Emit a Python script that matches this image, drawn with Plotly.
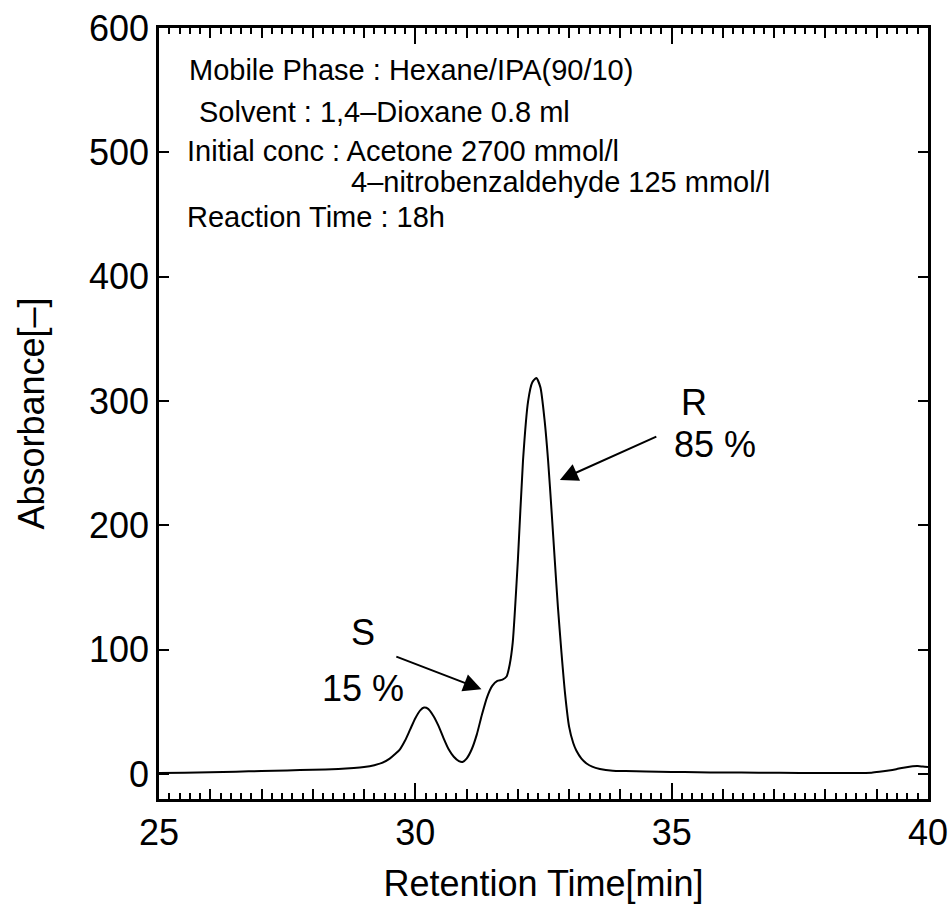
import plotly.graph_objects as go

# Chromatogram trace
time_min = [25.0, 25.5, 26.0, 26.5, 27.0, 27.5, 28.0, 28.5, 28.8, 29.0, 29.2, 29.35, 29.5, 29.6,
            29.7, 29.8, 29.9, 30.0, 30.1, 30.17, 30.25, 30.35, 30.45, 30.55, 30.65, 30.75, 30.85,
            30.92, 31.0, 31.1, 31.2, 31.3, 31.4, 31.5, 31.6, 31.7, 31.78, 31.84, 31.9, 32.0, 32.1,
            32.2, 32.28, 32.36, 32.44, 32.52, 32.59, 32.66, 32.72, 32.78, 32.85, 32.92, 33.0, 33.08,
            33.14, 33.24, 33.34, 33.45, 33.6, 33.85, 34.1, 34.5, 35.0, 35.5, 36.0, 36.7, 37.5, 38.5,
            38.9, 39.05, 39.2, 39.38, 39.55, 39.7, 39.8, 39.9, 40.0]
absorbance = [1.0, 1.2, 1.5, 2.0, 2.5, 3.0, 3.5, 4.2, 5.0, 5.8, 7.2, 9.0, 12.5, 16,
              20, 27, 36, 45, 51.5, 53.5, 52.5, 47, 39, 29, 20, 14, 10.5,
              9.8, 12.5, 20, 32, 48, 62, 71, 75, 76, 78.5, 88, 106, 172, 252,
              300, 315, 318.5, 311, 285, 252, 210, 172, 135, 98, 65, 38, 25,
              19, 12.5, 8.6, 6.0, 4.2, 2.8, 2.5, 2.1, 1.8, 1.5, 1.3, 1.2, 1.0, 1.0,
              1.2, 1.9, 2.8, 4.0, 5.4, 6.3, 6.5, 6.1, 5.8]

x_range = [25, 40]
y_range = [-20, 600]
y_ticks = [0, 100, 200, 300, 400, 500, 600]
x_ticks = [25, 30, 35, 40]

info_lines = [
    ("Mobile Phase : Hexane/IPA(90/10)", 25.57, 566.6),
    ("Solvent : 1,4–Dioxane 0.8 ml", 25.76, 532.8),
    ("Initial conc : Acetone 2700 mmol/l", 25.53, 501.0),
    ("4–nitrobenzaldehyde 125 mmol/l", 28.72, 476.5),
    ("Reaction Time : 18h", 25.53, 448.3),
]

FONT = "Liberation Sans, Arial, sans-serif"
BIG = 36

fig = go.Figure()
fig.add_trace(go.Scatter(x=time_min, y=absorbance, mode="lines",
                         line=dict(color="black", width=2, shape="spline", smoothing=0.6),
                         showlegend=False, hoverinfo="skip"))
# invisible trace on overlay axis for the 1-min ticks
fig.add_trace(go.Scatter(x=x_range, y=[None, None], xaxis="x2", yaxis="y",
                         mode="lines", showlegend=False, hoverinfo="skip"))

fig.update_layout(
    width=950, height=904,
    margin=dict(l=159, r=22, t=28, b=105),
    paper_bgcolor="white", plot_bgcolor="white",
    font=dict(family=FONT, color="black", size=BIG),
    xaxis=dict(range=x_range, tickvals=x_ticks, ticks="inside", ticklen=16, tickwidth=2,
               tickcolor="black", showline=True, linecolor="black", linewidth=2.5,
               mirror="ticks", showgrid=False, zeroline=False, automargin=False,
               tickfont=dict(size=BIG, family=FONT),
               title=dict(text="Retention Time[min]", font=dict(size=BIG, family=FONT), standoff=26)),
    xaxis2=dict(range=x_range, overlaying="x", anchor="y", side="bottom", dtick=1, tick0=25,
                ticks="inside", ticklen=10, tickwidth=1.5, tickcolor="black",
                showticklabels=False, showgrid=False, zeroline=False, showline=False,
                mirror="ticks", automargin=False,
                minor=dict(dtick=0.2, tick0=25, ticks="inside", ticklen=6, tickwidth=1.5,
                           tickcolor="black", showgrid=False)),
    yaxis=dict(range=y_range, tickvals=y_ticks, ticks="inside", ticklen=10, tickwidth=2,
               tickcolor="black", showline=True, linecolor="black", linewidth=2.5,
               mirror="ticks", showgrid=False, zeroline=False, automargin=False,
               tickfont=dict(size=BIG, family=FONT),
               title=dict(text="Absorbance[–]", font=dict(size=BIG, family=FONT), standoff=34)),
)

for text, xx, yy in info_lines:
    fig.add_annotation(x=xx, y=yy, xref="x", yref="y", text=text, showarrow=False,
                       xanchor="left", yanchor="middle", borderpad=0,
                       font=dict(size=29, family=FONT, color="black"))

# peak labels
fig.add_annotation(x=35.43, y=299, text="R", showarrow=False, font=dict(size=BIG, family=FONT))
fig.add_annotation(x=35.84, y=265, text="85 %", showarrow=False, font=dict(size=BIG, family=FONT))
fig.add_annotation(x=28.98, y=114, text="S", showarrow=False, font=dict(size=BIG, family=FONT))
fig.add_annotation(x=28.98, y=69, text="15 %", showarrow=False, font=dict(size=BIG, family=FONT))

# arrows
fig.add_annotation(x=32.82, y=236.6, ax=34.73, ay=272, xref="x", yref="y", axref="x", ayref="y",
                   text="", showarrow=True, arrowhead=2, arrowsize=1.8, arrowwidth=2,
                   arrowcolor="black")
fig.add_annotation(x=31.29, y=68.2, ax=29.60, ay=95, xref="x", yref="y", axref="x", ayref="y",
                   text="", showarrow=True, arrowhead=2, arrowsize=1.8, arrowwidth=2,
                   arrowcolor="black")

fig.write_html("out.html")
